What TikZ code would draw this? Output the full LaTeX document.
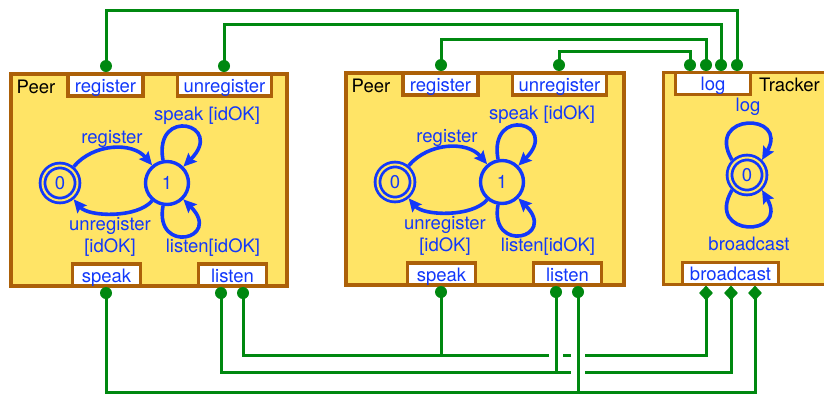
\documentclass[tikz,border=0pt]{standalone}
\usepackage{fontspec}
\setmainfont{TeX Gyre Heros}
\usetikzlibrary{arrows.meta,shapes.geometric}
\definecolor{fsmyellow}{RGB}{255,228,102}
\definecolor{boxbrown}{RGB}{172,96,8}
\definecolor{fsmblue}{RGB}{18,56,250}
\definecolor{wiregreen}{RGB}{0,136,16}
\tikzset{
  boxline/.style={draw=boxbrown, line width=3.4pt},
  outerbox/.style={boxline, fill=fsmyellow},
  portbox/.style={draw=boxbrown, fill=white, line width=3.4pt, text=fsmblue,
    minimum height=22pt, inner sep=0pt, outer sep=0pt, text height=16pt, text depth=2pt},
  pindot/.style={circle, fill=wiregreen, minimum size=12pt, inner sep=0pt},
  pindia/.style={diamond, fill=wiregreen, minimum width=14pt, minimum height=15pt, inner sep=0pt},
  wire/.style={draw=wiregreen, line width=3pt},
  fsmstate/.style={circle, draw=fsmblue, fill=fsmyellow, line width=3.4pt,
    minimum size=43pt, inner sep=0pt, text=fsmblue},
  finalstate/.style={circle, draw=fsmblue, fill=fsmyellow, line width=2.8pt,
    double=fsmyellow, double distance=2pt, minimum size=35pt, inner sep=0pt,
    outer sep=3.8pt, text=fsmblue},
  trans/.style={draw=fsmblue, line width=3.6pt, -{Stealth[length=13pt,width=12pt,inset=2pt]}},
  lbl/.style={text=fsmblue, inner sep=0pt, anchor=base},
  title/.style={inner sep=0pt, anchor=base west}
}
\newcommand\peerfsm[4]{% #1 prefix, #2 x shift, #3 y shift, #4 right edge
\begin{scope}[shift={(#2,#3)}]
  \draw[outerbox] (11,-74) rectangle (#4,-286);
  \node[title] (#1title) at (16.5,-93) {Peer};
  \node[portbox, minimum width=75pt, anchor=north] (#1reg) at (105.5,-74) {register};
  \node[portbox, minimum width=94pt, anchor=north] (#1unreg) at (224.5,-74) {unregister};
  \node[portbox, minimum width=68pt, anchor=south] (#1spk) at (106.5,-286) {speak};
  \node[portbox, minimum width=68pt, anchor=south] (#1lis) at (232.5,-286) {listen};
  \node[pindot] (#1regP) at (106,-66) {};
  \node[pindot] (#1unregP) at (224,-66) {};
  \node[pindot] (#1spkP) at (106,-293) {};
  \node[pindot] (#1lisPa) at (221,-293) {};
  \node[pindot] (#1lisPb) at (243,-293) {};
  \node[finalstate] (#1s0) at (60,-183) {0};
  \node[fsmstate] (#1s1) at (167,-183) {1};
  \draw[trans] (#1s0) to[out=50,in=130] (#1s1);
  \draw[trans] (#1s1) to[out=-130,in=-50,looseness=0.75] (#1s0);
  \draw[trans] (#1s1.100) .. controls +(100:55) and +(45:60) .. (#1s1.45);
  \draw[trans] (#1s1.-100) .. controls +(-100:50) and +(-45:56) .. (#1s1.-45);
  \node[lbl] (#1lregister) at (112,-143) {register};
  \node[lbl] (#1lspeak) at (207,-120.5) {speak [idOK]};
  \node[lbl] (#1lunreg) at (110,-230) {unregister};
  \node[lbl] (#1lunregok) at (110,-252) {[idOK]};
  \node[lbl] (#1llisten) at (213,-252) {listen[idOK]};
\end{scope}}
\begin{document}
\begin{tikzpicture}[x=1pt, y=1pt, font=\fontsize{18.5}{22}\selectfont]
\useasboundingbox (0,0) rectangle (824,-394);
\peerfsm{L}{0}{0}{287}
\peerfsm{M}{335}{1}{289}
% Tracker
\fill[fsmyellow] (663.5,-72.5) rectangle (830,-284.5);
\draw[boxline] (830,-72.5) -- (663.5,-72.5) -- (663.5,-284.5) -- (830,-284.5);
\node[title] (Ttitle) at (759,-91) {Tracker};
\node[portbox, minimum width=75pt, anchor=north] (Tlog) at (713,-72.5) {log};
\node[portbox, minimum width=96pt, anchor=south] (Tbc) at (730.5,-284.5) {broadcast};
\node[pindot] (TlogPa) at (690,-65) {};
\node[pindot] (TlogPb) at (706,-65) {};
\node[pindot] (TlogPc) at (721,-65) {};
\node[pindot] (TlogPd) at (737,-65) {};
\node[pindia] (Bd1) at (706,-293) {};
\node[pindia] (Bd2) at (731,-293) {};
\node[pindia] (Bd3) at (755,-293) {};
\node[finalstate] (Ts0) at (747,-175) {0};
\draw[trans] (Ts0.135) .. controls +(120:55) and +(60:55) .. (Ts0.45);
\draw[trans] (Ts0.-135) .. controls +(-120:55) and +(-60:55) .. (Ts0.-45);
\node[lbl] (Tllog) at (748,-111) {log};
\node[lbl] (Tlbc) at (749,-250) {broadcast};
% top wires
\draw[wire] (LregP.center) -- (LregP.center |- 0,-10) -| (TlogPd.center);
\draw[wire] (LunregP.center) -- (LunregP.center |- 0,-24) -| (TlogPc.center);
\draw[wire] (MregP.center) -- (MregP.center |- 0,-39) -| (TlogPb.center);
\draw[wire] (MunregP.center) -- (MunregP.center |- 0,-51) -| (TlogPa.center);
% bottom wires
\draw[wire] (LspkP.center) -- (LspkP.center |- 0,-392) -| (Bd3.center);
\draw[wire] (LlisPa.center) -- (LlisPa.center |- 0,-372) -| (Bd2.center);
\draw[wire] (LlisPb.center) -- (LlisPb.center |- 0,-355) -| (Bd1.center);
\draw[wire] (MspkP.center) -- (MspkP.center |- 0,-355);
% crossing gaps
\fill[white] (549,-350) rectangle (563,-360);
\fill[white] (571,-350) rectangle (585,-360);
\fill[white] (571,-367) rectangle (585,-377);
\draw[wire] (MlisPa.center) -- (MlisPa.center |- 0,-372);
\draw[wire] (MlisPb.center) -- (MlisPb.center |- 0,-392);
\end{tikzpicture}
\end{document}
